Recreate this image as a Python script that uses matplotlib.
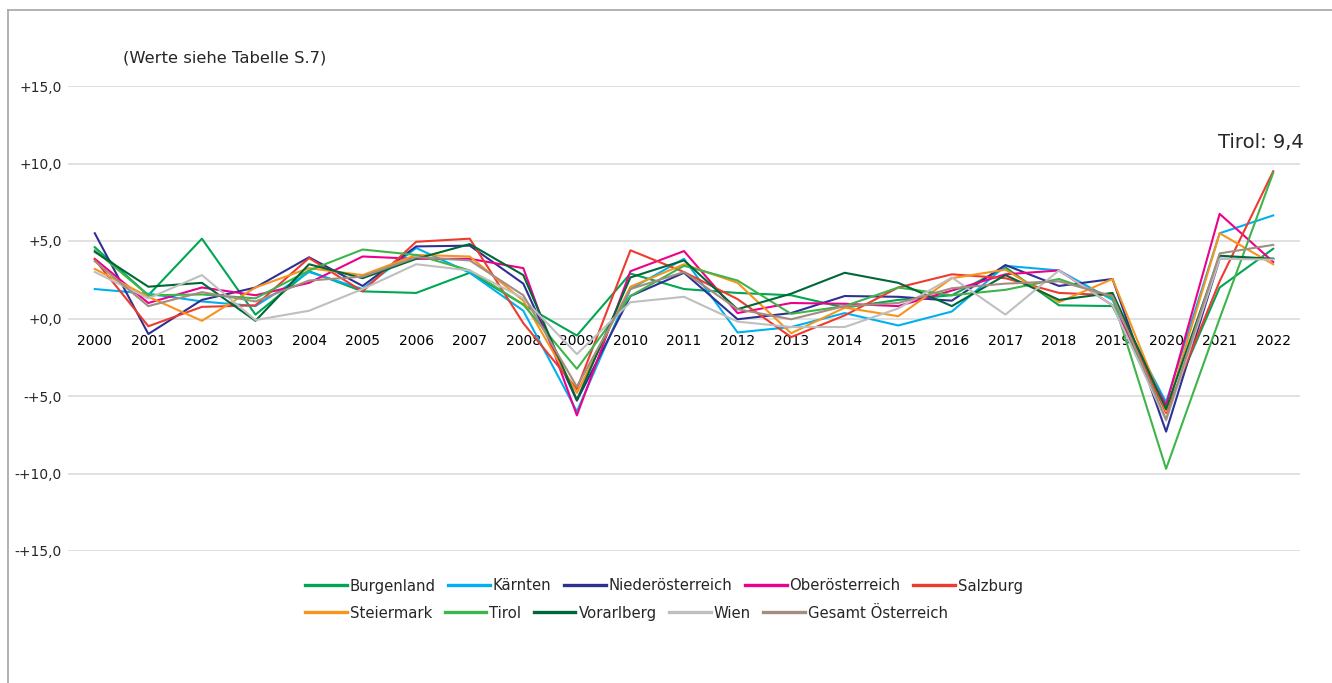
import matplotlib
import matplotlib.pyplot as plt
from matplotlib.lines import Line2D

matplotlib.use("Agg")

plt.rcParams["font.family"] = ["DejaVu Sans"]

years = [str(y) for y in range(2000, 2023)]

burgenland = [4.6, 1.5, 5.15, 0.25, 3.05, 1.75, 1.65, 2.95, 0.9, -1.1, 2.9, 1.9,
              1.65, 1.5, 0.7, 1.2, 1.5, 3.3, 0.85, 0.8, -6.0, 2.0, 4.5]
kaernten = [1.9, 1.6, 1.1, 0.8, 3.0, 1.9, 4.55, 2.95, 0.5, -6.0, 1.9, 3.85,
            -0.9, -0.55, 0.35, -0.45, 0.45, 3.4, 3.1, 1.2, -5.4, 5.5, 6.65]
niederoesterreich = [5.5, -1.0, 1.2, 2.0, 3.95, 2.1, 4.65, 4.7, 2.25, -5.3, 1.45, 2.95,
                     -0.05, 0.35, 1.45, 1.4, 1.15, 3.45, 2.1, 2.55, -7.3, 3.85, 3.85]
oberoesterreich = [3.85, 1.0, 2.0, 1.5, 2.3, 4.0, 3.85, 3.85, 3.25, -6.25, 3.05, 4.35,
                   0.35, 1.0, 0.95, 0.8, 1.8, 2.85, 3.1, 0.85, -5.6, 6.75, 3.65]
salzburg = [3.8, -0.5, 0.75, 0.85, 3.9, 1.75, 4.95, 5.15, -0.3, -4.55, 4.4, 3.0,
            1.25, -1.2, 0.2, 2.0, 2.85, 2.6, 1.65, 1.5, -6.1, 2.4, 9.5]
steiermark = [3.2, 1.4, -0.15, 2.0, 3.25, 2.8, 4.1, 4.0, 1.15, -4.8, 2.05, 3.5,
              2.3, -0.95, 0.7, 0.15, 2.6, 3.15, 1.05, 2.55, -6.0, 5.5, 3.5]
tirol = [4.4, 1.5, 1.55, 1.3, 3.1, 4.45, 4.1, 3.1, 0.9, -3.25, 1.45, 3.4,
         2.45, 0.3, 0.8, 2.0, 1.5, 1.85, 2.55, 1.35, -9.7, 0.0, 9.4]
vorarlberg = [4.3, 2.05, 2.3, -0.15, 3.5, 2.6, 3.85, 4.8, 2.8, -5.25, 2.65, 3.75,
              0.6, 1.6, 2.95, 2.3, 0.8, 2.8, 1.2, 1.65, -5.85, 4.05, 3.85]
wien = [3.0, 1.3, 2.8, -0.1, 0.5, 1.9, 3.5, 3.1, 1.3, -2.3, 1.05, 1.4,
        -0.2, -0.55, -0.55, 0.65, 2.65, 0.25, 3.1, 0.85, -6.6, 3.85, 3.8]
gesamt = [3.7, 0.8, 1.7, 1.1, 2.45, 2.7, 3.95, 3.75, 1.5, -4.4, 1.9, 3.0,
          0.6, -0.05, 0.8, 1.0, 1.95, 2.25, 2.4, 1.45, -6.5, 4.2, 4.75]

series_names = ["Burgenland", "Kärnten", "Niederösterreich", "Oberösterreich", "Salzburg",
                "Steiermark", "Tirol", "Vorarlberg", "Wien", "Gesamt Österreich"]
series_values = [burgenland, kaernten, niederoesterreich, oberoesterreich, salzburg,
                 steiermark, tirol, vorarlberg, wien, gesamt]
series_colors = ["#00A651", "#00B0F0", "#2E3192", "#EC008C", "#EE3B2F",
                 "#F7941D", "#3DB54A", "#006838", "#BFBFBF", "#A38D80"]

y_ticks = [-15, -10, -5, 0, 5, 10, 15]
y_tick_labels = ["-+15,0", "-+10,0", "-+5,0", "+0,0", "+5,0", "+10,0", "+15,0"]

W, H = 1332, 683
fig = plt.figure(figsize=(W / 100, H / 100), dpi=100)
ax = fig.add_axes([68 / W, 1 - 551 / H, (1300 - 68) / W, (551 - 86) / H])

x = list(range(len(years)))
handles = []
for name, vals, col in zip(series_names, series_values, series_colors):
    (ln,) = ax.plot(x, vals, color=col, linewidth=1.5, label=name, clip_on=False, zorder=3)
    handles.append(ln)

ax.set_xlim(-0.5, len(years) - 0.5)
ax.set_ylim(-15, 15)
ax.set_yticks(y_ticks)
ax.set_yticklabels(y_tick_labels, fontsize=10, color="#262626")
ax.set_xticks(x)
ax.set_xticklabels(years, fontsize=9.3, color="#262626")
ax.spines["bottom"].set_position(("data", 0))
for sp in ax.spines.values():
    sp.set_visible(False)
ax.tick_params(axis="x", length=0, pad=11)
ax.tick_params(axis="y", length=0, pad=4.5)
ax.yaxis.grid(True, color="#D9D9D9", linewidth=1.1, zorder=0)
ax.set_axisbelow(True)

# outer chart frame (left and top edges visible)
fig.add_artist(Line2D([8 / W, 8 / W], [0, 1 - 10 / H], color="#A6A6A6", linewidth=1.2))
fig.add_artist(Line2D([8 / W, 1], [1 - 10 / H, 1 - 10 / H], color="#A6A6A6", linewidth=1.2))

fig.text(123 / W, 1 - 58 / H, "(Werte siehe Tabelle S.7)", fontsize=11.8,
         color="#262626", ha="left", va="center")
fig.text(1304 / W, 1 - 143 / H, "Tirol: 9,4", fontsize=14, color="#262626",
         ha="right", va="center")

# two legend rows, left aligned like the original
for row, yc in ((handles[:5], 586), (handles[5:], 613)):
    leg = fig.legend(handles=row, loc="center left", ncol=5,
                     bbox_to_anchor=(305 / W, 1 - yc / H), bbox_transform=fig.transFigure,
                     frameon=False, fontsize=10.7, handlelength=2.8, handletextpad=0.2,
                     columnspacing=0.85, borderpad=0, borderaxespad=0)
    for t in leg.get_texts():
        t.set_color("#262626")
    for ln in leg.get_lines():
        ln.set_linewidth(2.4)

fig.savefig("out.png", dpi=100)
